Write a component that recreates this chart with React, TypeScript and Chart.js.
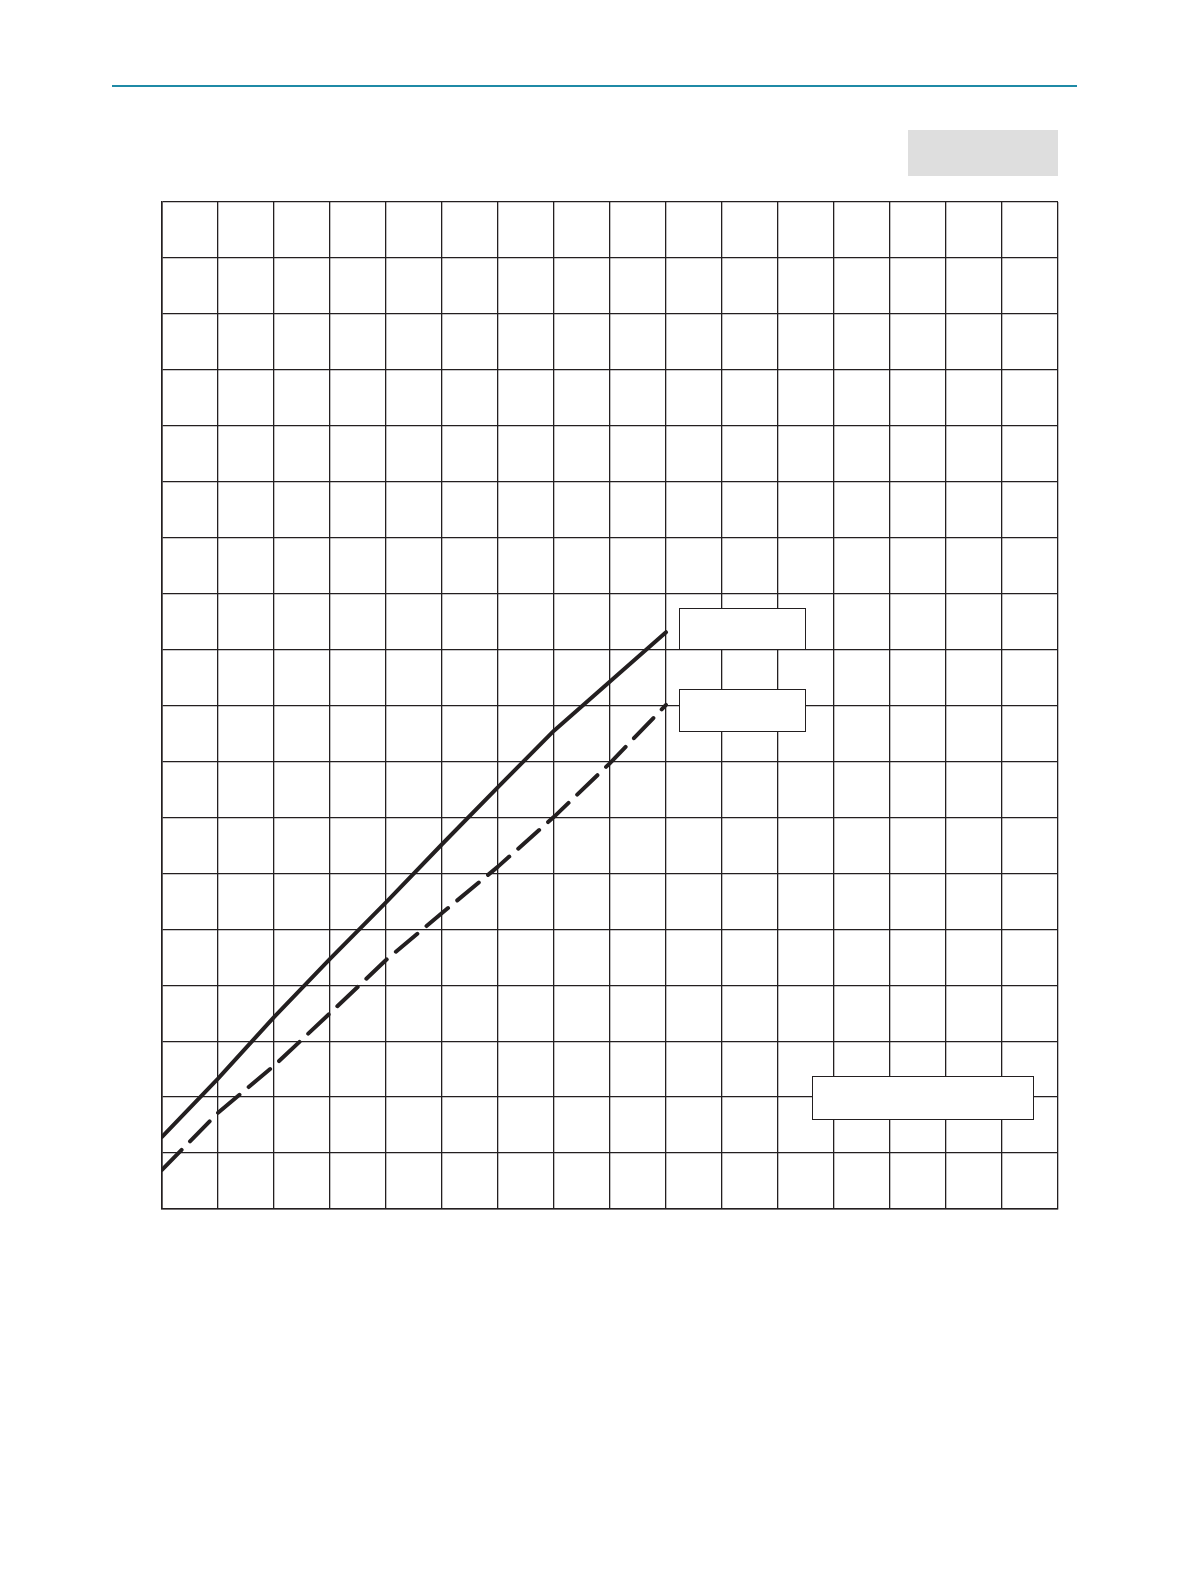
import React, { useEffect, useRef } from "react";
import { Chart, registerables } from "chart.js";

Chart.register(...registerables);

// Grid columns (x) and rows (y), in grid units
const xValues = [0, 1, 2, 3, 4, 5, 6, 7, 8, 9];
const solidSeries = [1.29, 2.33, 3.43, 4.47, 5.48, 6.52, 7.54, 8.55, 9.43, 10.31];
const dashedSeries = [0.7, 1.72, 2.56, 3.5, 4.45, 5.29, 6.12, 7.01, 7.97, 9.01];
const xMax = 16;
const yMax = 18;

const W = 1191;
const H = 1584;

export default function App() {
  const ref = useRef<HTMLCanvasElement | null>(null);

  useEffect(() => {
    if (!ref.current) return;
    const chart = new Chart(ref.current, {
      type: "line",
      data: {
        datasets: [
          {
            label: "solid",
            data: xValues.map((x, i) => ({ x, y: solidSeries[i] })),
            borderColor: "#231f20",
            borderWidth: 4,
            pointRadius: 0,
            borderCapStyle: "round",
            borderJoinStyle: "round",
            tension: 0,
          },
          {
            label: "dashed",
            data: xValues.map((x, i) => ({ x, y: dashedSeries[i] })),
            borderColor: "#231f20",
            borderWidth: 4,
            pointRadius: 0,
            borderDash: [28, 12],
            borderCapStyle: "round",
            borderJoinStyle: "round",
            tension: 0,
          },
        ],
      },
      options: {
        animation: false,
        responsive: false,
        devicePixelRatio: 1,
        layout: { padding: { left: 162, top: 202, right: W - 1058, bottom: H - 1209 } },
        plugins: { legend: { display: false }, tooltip: { enabled: false } },
        scales: {
          x: {
            type: "linear",
            min: 0,
            max: xMax,
            ticks: { display: false, stepSize: 1 },
            grid: { color: "#231f20", lineWidth: 1.3, drawTicks: false },
            border: { color: "#231f20", width: 1.6 },
          },
          y: {
            type: "linear",
            min: 0,
            max: yMax,
            ticks: { display: false, stepSize: 1 },
            grid: { color: "#231f20", lineWidth: 1.3, drawTicks: false },
            border: { color: "#231f20", width: 1.6 },
          },
        },
      },
    });
    return () => chart.destroy();
  }, []);

  const box = (left: number, top: number, width: number, height: number): React.CSSProperties => ({
    position: "absolute",
    left,
    top,
    width,
    height,
    boxSizing: "border-box",
    border: "1.5px solid #231f20",
    background: "#ffffff",
  });

  return (
    <div style={{ position: "absolute", left: 0, top: 0, width: W, height: H, background: "#fff", overflow: "hidden" }}>
      <div style={{ position: "absolute", left: 112, top: 85, width: 965, height: 1.5, background: "#1f8aa6" }} />
      <div style={{ position: "absolute", left: 908, top: 130, width: 150, height: 46, background: "#dedede" }} />
      <canvas ref={ref} width={W} height={H} style={{ position: "absolute", left: 0, top: 0, width: W, height: H }} />
      <div style={box(679, 608, 127, 42)} />
      <div style={box(679, 689, 127, 43)} />
      <div style={box(812, 1076, 222, 44)} />
    </div>
  );
}
